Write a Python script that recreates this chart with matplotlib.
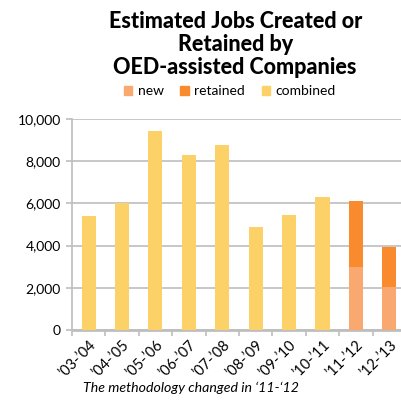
import numpy as np
import matplotlib.pyplot as plt
from matplotlib.patches import Patch

years = ["\u201903-\u201904", "\u201904-\u201905", "\u201905-\u201906", "\u201906-\u201907",
         "\u201907-\u201908", "\u201908-\u201909", "\u201909-\u201910", "\u201910-\u201911",
         "\u201911-\u201912", "\u201912-\u201913"]
combined = [5380, 6000, 9430, 8290, 8780, 4880, 5450, 6300, 0, 0]
new = [0, 0, 0, 0, 0, 0, 0, 0, 3000, 2040]
retained = [0, 0, 0, 0, 0, 0, 0, 0, 3110, 1890]

c_new = '#F9A870'
c_ret = '#F98A2E'
c_comb = '#FCD167'
grid = '#BEBEBE'

plt.rcParams['font.family'] = ['Lato', 'DejaVu Sans']

fig = plt.figure(figsize=(4.02, 4.0), dpi=100)
ax = fig.add_axes([0.179, 0.175, 0.831, 0.5275])

x = np.arange(len(years))
w = 0.42
ax.bar(x, combined, w, color=c_comb, zorder=3)
ax.bar(x, new, w, color=c_new, zorder=3)
ax.bar(x, retained, w, bottom=new, color=c_ret, zorder=3)

ax.set_xlim(-0.5, len(years) - 0.5)
ax.set_ylim(0, 10000)
ax.set_yticks(range(0, 10001, 2000))
ax.set_yticklabels([f'{v:,}' for v in range(0, 10001, 2000)], fontsize=10)
ax.yaxis.grid(True, color=grid, linewidth=1.2, zorder=0)
ax.set_xticks(x)
ax.set_xticklabels(years, rotation=45, ha='right', rotation_mode='anchor', fontsize=10.5)
ax.set_xticks(np.arange(-0.5, len(years)), minor=True)
ax.tick_params(axis='x', which='major', length=0, pad=6)
ax.tick_params(axis='x', which='minor', length=4, color=grid, width=1.2)
ax.tick_params(axis='y', length=4, color=grid, width=1.2, pad=4)
for s in ['top', 'right']:
    ax.spines[s].set_visible(False)
ax.spines['left'].set_color(grid)
ax.spines['bottom'].set_color(grid)
ax.spines['left'].set_linewidth(1.2)
ax.spines['bottom'].set_linewidth(2)

fig.text(0.585, 0.972, 'Estimated Jobs Created or\nRetained by\nOED-assisted Companies',
         ha='center', va='top', fontsize=15.5, fontweight='black', linespacing=1.12)

handles = [Patch(color=c_new, label='new'), Patch(color=c_ret, label='retained'),
           Patch(color=c_comb, label='combined')]
fig.legend(handles=handles, loc='center', bbox_to_anchor=(0.572, 0.772), ncol=3,
           frameon=False, fontsize=10, handlelength=0.6, handleheight=0.6,
           handletextpad=0.4, columnspacing=1.2)

fig.text(0.207, 0.03, 'The methodology changed in \u201811-\u201812', fontsize=10.2,
         style='italic', ha='left', va='center')

fig.savefig('out.png', dpi=100)
